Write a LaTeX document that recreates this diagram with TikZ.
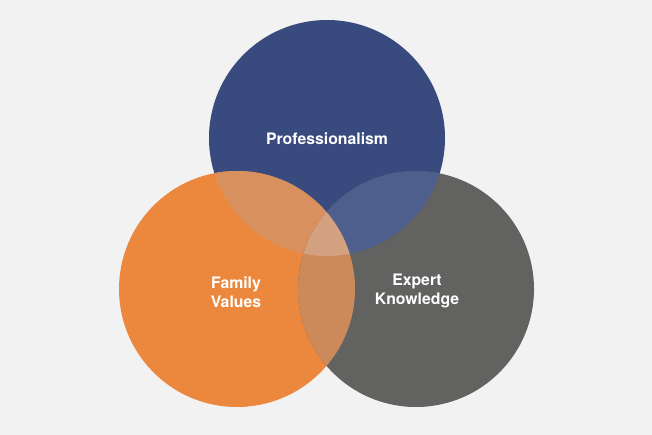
\documentclass[tikz,border=0pt]{standalone}
\usepackage{fontspec}
\setmainfont{TeX Gyre Heros}
\definecolor{bgcol}{HTML}{F2F2F2}
\definecolor{procol}{HTML}{394A7E}
\definecolor{famcol}{HTML}{EC883D}
\definecolor{expcol}{HTML}{626361}
\definecolor{profamcol}{HTML}{D8905F}
\definecolor{proexpcol}{HTML}{4F5F8D}
\definecolor{famexpcol}{HTML}{CC8A5A}
\definecolor{allcol}{HTML}{D3A17F}
\tikzset{
  lbl/.style={text=white, align=center, font=\bfseries\fontsize{15.8}{19}\selectfont}
}
\begin{document}
\begin{tikzpicture}[x=1pt,y=-1pt]
\fill[bgcol] (0,0) rectangle (652,435);
\foreach \n/\x/\y/\c in {pro/327/138/procol, fam/237/289/famcol, exp/416/289/expcol}
  \fill[\c] (\x,\y) coordinate (\n) circle (118pt);
% overlaps
\begin{scope}
  \clip (pro) circle (118pt);
  \fill[profamcol] (fam) circle (118pt);
  \fill[proexpcol] (exp) circle (118pt);
\end{scope}
\begin{scope}
  \clip (fam) circle (118pt);
  \fill[famexpcol] (exp) circle (118pt);
  \clip (exp) circle (118pt);
  \fill[allcol] (pro) circle (118pt);
\end{scope}
\node[lbl] (protxt) at (327,139) {Professionalism};
\node[lbl] (famtxt) at (236,292) {Family\\Values};
\node[lbl] (exptxt) at (417,291) {Expert\\Knowledge};
\end{tikzpicture}
\end{document}
